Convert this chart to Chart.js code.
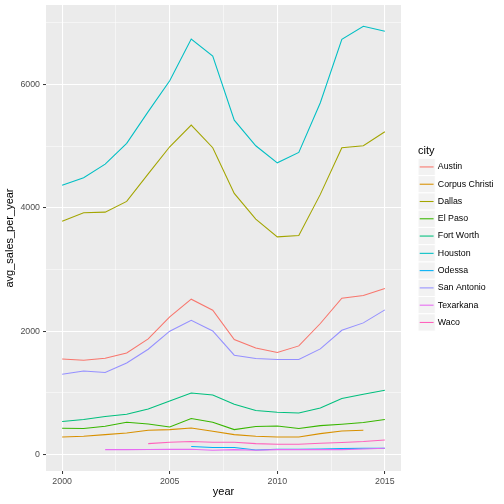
<!DOCTYPE html>
<html lang="en">
<head>
<meta charset="UTF-8">
<title>avg_sales_per_year by city</title>
<script src="https://cdn.jsdelivr.net/npm/chart.js"></script>
<style>
  html, body { margin: 0; padding: 0; background: #fff; }
  #wrap { width: 504px; height: 504px; }
</style>
</head>
<body>
<div id="wrap"><canvas id="chart" width="504" height="504"></canvas></div>
<script>
// data (null = no value that year)
const years = [2000, 2001, 2002, 2003, 2004, 2005, 2006, 2007, 2008, 2009, 2010, 2011, 2012, 2013, 2014, 2015];
const cities = ['Austin', 'Corpus Christi', 'Dallas', 'El Paso', 'Fort Worth', 'Houston', 'Odessa', 'San Antonio', 'Texarkana', 'Waco'];

const austin      = [1551, 1530, 1562, 1648, 1875, 2232, 2519, 2341, 1865, 1729, 1654, 1762, 2125, 2535, 2579, 2692];
const corpus      = [286, 297, 324, 350, 394, 405, 431, 378, 324, 297, 286, 286, 340, 383, 394, null];
const dallas      = [3784, 3919, 3930, 4104, 4550, 4990, 5341, 4974, 4234, 3817, 3530, 3552, 4218, 4974, 5006, 5233];
const elPaso      = [427, 422, 459, 524, 496, 448, 584, 524, 405, 454, 464, 422, 470, 491, 519, 568];
const fortWorth   = [535, 568, 616, 654, 740, 869, 999, 967, 816, 714, 686, 675, 756, 908, 978, 1043];
const houston     = [4368, 4487, 4709, 5045, 5560, 6060, 6736, 6461, 5422, 5006, 4730, 4898, 5703, 6731, 6942, 6861];
const odessa      = [null, null, null, null, null, null, 130, 114, 114, 75, 86, 86, 91, 97, 102, 102];
const sanAntonio  = [1302, 1356, 1330, 1486, 1708, 2000, 2178, 2005, 1611, 1557, 1541, 1541, 1713, 2016, 2135, 2346];
const texarkana   = [null, null, 81, 81, 83, 84, 86, 70, 81, 70, 81, 81, 81, 81, 91, 102];
const waco        = [null, null, null, null, 178, 200, 211, 200, 200, 178, 167, 167, 183, 195, 211, 237];

const series = [austin, corpus, dallas, elPaso, fortWorth, houston, odessa, sanAntonio, texarkana, waco];
const colors = ['#F8766D', '#D89000', '#A3A500', '#39B600', '#00BF7D', '#00BFC4', '#00B0F6', '#9590FF', '#E76BF3', '#FF62BC'];

const yTicks = [0, 1000, 2000, 3000, 4000, 5000, 6000, 7000];
const xTicks = [2000, 2002.5, 2005, 2007.5, 2010, 2012.5, 2015];

const isMajorY = v => v % 2000 === 0;
const isMajorX = v => v % 5 === 0;

const datasets = cities.map((city, i) => ({
    label: city,
    data: years.map((yr, j) => ({ x: yr, y: series[i][j] })).filter(p => p.y !== null),
    borderColor: colors[i],
    backgroundColor: colors[i],
    borderWidth: 1.07,
    pointRadius: 0,
    tension: 0,
    order: cities.length - i   // later cities drawn on top, like ggplot
}));

// grey panel behind the lines
const panelBg = {
    id: 'panelBg',
    beforeDraw(chart) {
        const { ctx, chartArea: a } = chart;
        ctx.save();
        ctx.fillStyle = '#EBEBEB';
        ctx.fillRect(a.left, a.top, a.right - a.left, a.bottom - a.top);
        ctx.restore();
    }
};

// ggplot-style legend on the right
const sideLegend = {
    id: 'sideLegend',
    afterDraw(chart) {
        const ctx = chart.ctx;
        const x0 = 418, key = 17.28, top = 158.3;
        ctx.save();
        ctx.fillStyle = '#000';
        ctx.font = '11px "Liberation Sans", Arial, sans-serif';
        ctx.textBaseline = 'middle';
        ctx.textAlign = 'left';
        ctx.fillText('city', x0, 150.5);
        ctx.font = '8.8px "Liberation Sans", Arial, sans-serif';
        cities.forEach((city, i) => {
            const y = top + i * key;
            ctx.fillStyle = '#F2F2F2';
            ctx.fillRect(x0, y, key, key);
            ctx.strokeStyle = '#FFFFFF';
            ctx.lineWidth = 1;
            ctx.strokeRect(x0, y, key, key);
            ctx.strokeStyle = colors[i];
            ctx.lineWidth = 1.07;
            ctx.beginPath();
            ctx.moveTo(x0 + 1.7, y + key / 2);
            ctx.lineTo(x0 + key - 1.7, y + key / 2);
            ctx.stroke();
            ctx.fillStyle = '#000';
            ctx.fillText(city, x0 + key + 2.5, y + key / 2);
        });
        ctx.restore();
    }
};

const tickFont = { family: '"Liberation Sans", Arial, sans-serif', size: 8.8 };
const titleFont = { family: '"Liberation Sans", Arial, sans-serif', size: 11 };

new Chart(document.getElementById('chart'), {
    type: 'line',
    data: { datasets },
    options: {
        responsive: false,
        animation: false,
        layout: { padding: { top: 5, right: 103, left: 0, bottom: 0 } },
        plugins: {
            legend: { display: false },
            tooltip: { enabled: false }
        },
        scales: {
            x: {
                type: 'linear',
                min: 1999.25,
                max: 2015.75,
                afterBuildTicks: s => { s.ticks = xTicks.map(v => ({ value: v })); },
                afterFit: s => { s.height = 33; s.paddingLeft = 0; s.paddingRight = 0; },
                border: { display: false },
                grid: {
                    color: '#FFFFFF',
                    lineWidth: c => (c.tick && isMajorX(c.tick.value) ? 1.07 : 0.53),
                    tickColor: c => (c.tick && isMajorX(c.tick.value) ? '#333333' : 'rgba(0,0,0,0)'),
                    tickWidth: 1,
                    tickLength: 3
                },
                ticks: {
                    autoSkip: false,
                    maxRotation: 0,
                    padding: 2,
                    color: '#4D4D4D',
                    font: tickFont,
                    callback: v => (isMajorX(v) ? String(v) : '')
                },
                title: {
                    display: true,
                    text: 'year',
                    color: '#000',
                    font: titleFont,
                    padding: { top: 0, bottom: 5.4 }
                }
            },
            y: {
                type: 'linear',
                min: -266,
                max: 7288,
                afterBuildTicks: s => { s.ticks = yTicks.map(v => ({ value: v })); },
                afterFit: s => { s.width = 46; s.paddingTop = 0; s.paddingBottom = 0; },
                border: { display: false },
                grid: {
                    color: '#FFFFFF',
                    lineWidth: c => (c.tick && isMajorY(c.tick.value) ? 1.07 : 0.53),
                    tickColor: c => (c.tick && isMajorY(c.tick.value) ? '#333333' : 'rgba(0,0,0,0)'),
                    tickWidth: 1,
                    tickLength: 3
                },
                ticks: {
                    autoSkip: false,
                    padding: 3,
                    color: '#4D4D4D',
                    font: tickFont,
                    callback: v => (isMajorY(v) ? String(v) : '')
                },
                title: {
                    display: true,
                    text: 'avg_sales_per_year',
                    color: '#000',
                    font: titleFont,
                    padding: { top: 3.4, bottom: 0 }
                }
            }
        }
    },
    plugins: [panelBg, sideLegend]
});
</script>
</body>
</html>
